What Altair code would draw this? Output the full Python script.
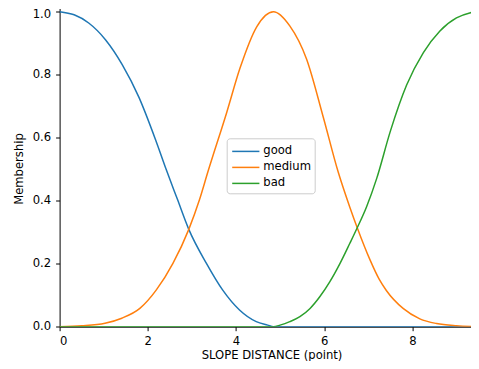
import altair as alt
import pandas as pd

# Membership curves
good_x = [0, 0.33, 0.66, 1.04, 1.42, 1.80, 2.18, 2.42, 2.67, 2.93, 3.33, 3.70, 4.08, 4.46, 4.72, 4.85, 9.51]
good_y = [1.0, 0.99, 0.964, 0.911, 0.832, 0.728, 0.592, 0.498, 0.405, 0.309, 0.201, 0.116, 0.053, 0.016, 0.005, 0.0, 0.0]

medium_x = [0, 0.5, 1.03, 1.41, 1.82, 2.19, 2.57, 2.93, 3.17, 3.36, 3.79, 4.09, 4.47, 4.85,
            5.22, 5.60, 5.98, 6.32, 6.58, 6.75, 7.04, 7.25, 7.41, 7.79, 8.17, 8.55, 9.0, 9.51]
medium_y = [0.0, 0.003, 0.011, 0.027, 0.058, 0.116, 0.201, 0.309, 0.402, 0.49, 0.68, 0.82, 0.952, 1.0,
            0.955, 0.85, 0.665, 0.49, 0.38, 0.314, 0.212, 0.15, 0.115, 0.058, 0.025, 0.01, 0.003, 0.0]

bad_x = [0, 4.85, 5.0, 5.22, 5.45, 5.68, 5.90, 6.13, 6.36, 6.58, 6.75, 6.96, 7.19, 7.50, 7.87, 8.25, 8.62, 9.0, 9.3, 9.51]
bad_y = [0.0, 0.0, 0.005, 0.016, 0.032, 0.058, 0.095, 0.143, 0.201, 0.264, 0.314, 0.38, 0.47, 0.62, 0.767, 0.87, 0.938, 0.98, 0.996, 1.0]

series_names = ["good", "medium", "bad"]
series_colors = ["#1f77b4", "#ff7f0e", "#2ca02c"]
x_ticks = [0, 2, 4, 6, 8]
y_ticks = [0.0, 0.2, 0.4, 0.6, 0.8, 1.0]

rows = []
for name, xs, ys in [("good", good_x, good_y), ("medium", medium_x, medium_y), ("bad", bad_x, bad_y)]:
    for i, (xv, yv) in enumerate(zip(xs, ys)):
        rows.append({"series": name, "x": xv, "y": yv, "i": i})
df = pd.DataFrame(rows)

FONT = "DejaVu Sans"
FS = 11.6

chart = alt.Chart(df).mark_line(strokeWidth=1.5, interpolate="monotone", clip=True).encode(
    x=alt.X("x:Q", scale=alt.Scale(domain=[0, 9.33], nice=False, zero=False),
            axis=alt.Axis(values=x_ticks, format="d", title="SLOPE DISTANCE (point)",
                          labelPadding=5, titleX=211.9, titleY=31.8, titleBaseline="alphabetic",
                          titleAlign="center", titleAnchor="start")),
    y=alt.Y("y:Q", scale=alt.Scale(domain=[0, 1.01], nice=False),
            axis=alt.Axis(values=y_ticks, format=".1f", title="Membership",
                          labelPadding=5, titleX=-40.1, titleY=160, titleAngle=270,
                          labelOffset={"condition": {"test": "datum.value >= 1", "value": 2.5}, "value": 0},
                          titleBaseline="middle", titleAlign="center", titleAnchor="start")),
    color=alt.Color("series:N", sort=series_names,
                    scale=alt.Scale(domain=series_names, range=series_colors),
                    legend=alt.Legend(title=None, orient="none", legendX=167.1, legendY=129.8,
                                      symbolType="M-1.6,0H1.6", symbolSize=289, symbolStrokeWidth=1.5,
                                      symbolOffset=6, labelOffset=8, padding=3.6, rowPadding=0,
                                      labelFont=FONT, labelFontSize=FS, labelColor="black",
                                      fillColor="rgba(255,255,255,0.8)", strokeColor="#cccccc",
                                      cornerRadius=3)),
    order="i:Q",
).properties(
    width=411.4,
    height=318.2,
    autosize=alt.AutoSizeParams(type="none"),
    padding={"left": 51.6, "top": 0.5, "right": 0, "bottom": 34.3},
).configure_view(stroke=None).configure_axis(
    grid=False, domainColor="black", domainWidth=1, tickColor="black", tickWidth=1, tickSize=4,
    labelFont=FONT, labelFontSize=FS, labelColor="black",
    titleFont=FONT, titleFontSize=FS, titleFontWeight="normal", titleColor="black",
)

chart.save("out.html", embed_options={"renderer": "svg", "actions": False})
